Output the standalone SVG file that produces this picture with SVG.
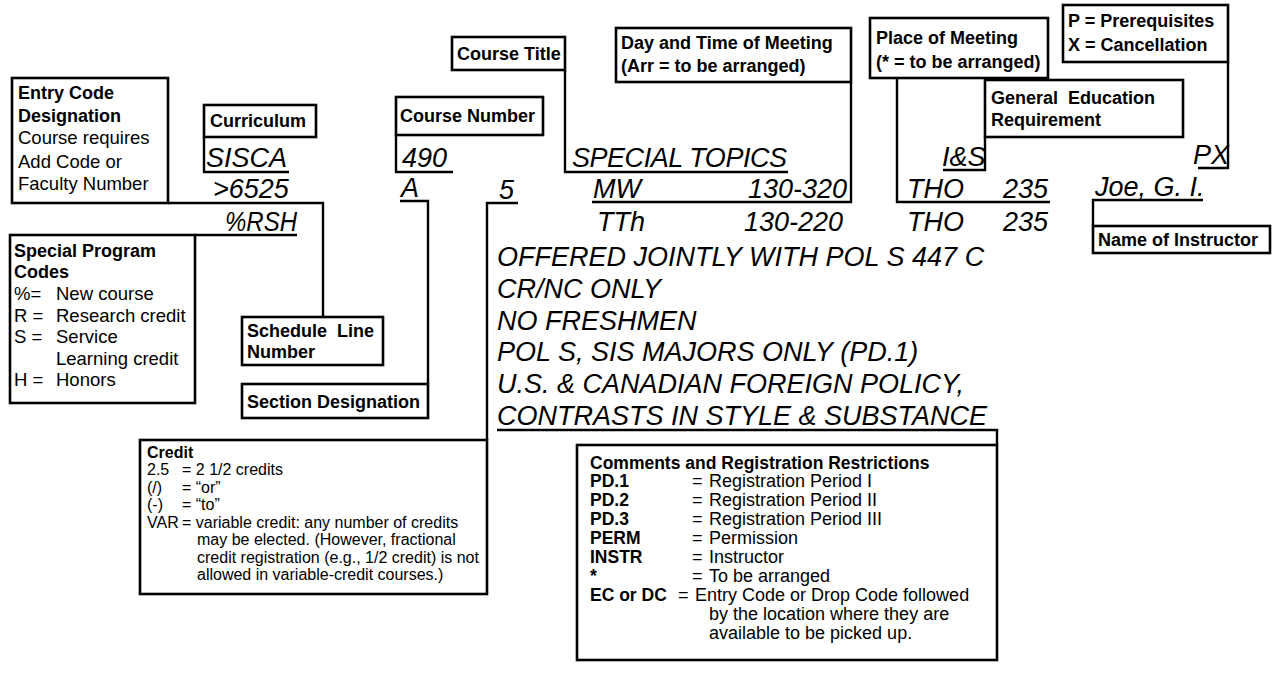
<svg xmlns="http://www.w3.org/2000/svg" width="1276" height="696" viewBox="0 0 1276 696">
<style>
.box{fill:#fff;stroke:#000;stroke-width:2.6}
.conn{fill:none;stroke:#000;stroke-width:2.4;stroke-linejoin:miter}
.h{font-family:"Liberation Sans",Arial,sans-serif;font-weight:bold;font-size:18px;fill:#000}
.b{font-family:"Liberation Sans",Arial,sans-serif;font-size:18.5px;fill:#000}
.cb{font-family:"Liberation Sans",Arial,sans-serif;font-size:16px;fill:#000}
.ch{font-family:"Liberation Sans",Arial,sans-serif;font-weight:bold;font-size:16px;fill:#000}
.mb{font-family:"Liberation Sans",Arial,sans-serif;font-size:18px;fill:#000}
.mh{font-family:"Liberation Sans",Arial,sans-serif;font-weight:bold;font-size:17.5px;fill:#000}
.rec{font-family:"Liberation Sans",Arial,sans-serif;font-style:italic;font-size:27px;fill:#000}
</style>
<rect width="1276" height="696" fill="#fff"/>

<g id="connectors">
<path class="conn" d="M204,137 V172 H289"/>
<path class="conn" d="M396,135 V172 H453"/>
<path class="conn" d="M565,70 V172 H788"/>
<path class="conn" d="M851,82 V202 H592"/>
<path class="conn" d="M897,78 V202 H1050"/>
<path class="conn" d="M985,137 V170 H943"/>
<path class="conn" d="M1228,62 V168 H1198"/>
<path class="conn" d="M1093,226 V200 H1203"/>
<path class="conn" d="M997,445 V430 H497"/>
<path class="conn" d="M487,440 V203 H518"/>
<path class="conn" d="M428,384 V201 H400"/>
<path class="conn" d="M323,317 V203 H168"/>
<path class="conn" d="M195,235 H297"/>
</g>

<g id="n-entry">
<rect class="box" x="12" y="78" width="156" height="125"/>
<text class="h" x="18" y="99">Entry Code</text>
<text class="h" x="18" y="122">Designation</text>
<text class="b" x="18" y="144">Course requires</text>
<text class="b" x="18" y="168">Add Code or</text>
<text class="b" x="18" y="190">Faculty Number</text>
</g>

<g id="n-curriculum">
<rect class="box" x="204" y="105" width="112" height="32"/>
<text class="h" x="210" y="127">Curriculum</text>
</g>

<g id="n-coursenumber">
<rect class="box" x="396" y="97" width="147" height="38"/>
<text class="h" x="400" y="122">Course Number</text>
</g>

<g id="n-coursetitle">
<rect class="box" x="452" y="37" width="113" height="33"/>
<text class="h" x="457" y="60">Course Title</text>
</g>

<g id="n-daytime">
<rect class="box" x="616" y="28" width="235" height="54"/>
<text class="h" x="621" y="49">Day and Time of Meeting</text>
<text class="h" x="621" y="72">(Arr = to be arranged)</text>
</g>

<g id="n-place">
<rect class="box" x="870" y="18" width="178" height="60"/>
<text class="h" x="876" y="44">Place of Meeting</text>
<text class="h" x="876" y="68">(* = to be arranged)</text>
</g>

<g id="n-gened">
<rect class="box" x="985" y="80" width="198" height="57"/>
<text class="h" x="991" y="104">General&#160; Education</text>
<text class="h" x="991" y="126">Requirement</text>
</g>

<g id="n-px">
<rect class="box" x="1063" y="5" width="165" height="57"/>
<text class="h" x="1068" y="27">P = Prerequisites</text>
<text class="h" x="1068" y="51">X = Cancellation</text>
</g>

<g id="n-instructor">
<rect class="box" x="1093" y="226" width="177" height="27"/>
<text class="h" x="1098" y="246">Name of Instructor</text>
</g>

<g id="n-special">
<rect class="box" x="10" y="235" width="185" height="168"/>
<text class="h" x="14" y="257">Special Program</text>
<text class="h" x="14" y="278">Codes</text>
<text class="b" x="14" y="300">%=</text><text class="b" x="56" y="300">New course</text>
<text class="b" x="14" y="322">R =</text><text class="b" x="56" y="322">Research credit</text>
<text class="b" x="14" y="343">S =</text><text class="b" x="56" y="343">Service</text>
<text class="b" x="56" y="365">Learning credit</text>
<text class="b" x="14" y="386">H =</text><text class="b" x="56" y="386">Honors</text>
</g>

<g id="n-schedule">
<rect class="box" x="242" y="317" width="141" height="48"/>
<text class="h" x="247" y="337">Schedule&#160; Line</text>
<text class="h" x="247" y="358">Number</text>
</g>

<g id="n-section">
<rect class="box" x="242" y="384" width="186" height="34"/>
<text class="h" x="247" y="408">Section Designation</text>
</g>

<g id="n-credit">
<rect class="box" x="140" y="440" width="347" height="154"/>
<text class="ch" x="147" y="458">Credit</text>
<text class="cb" x="147" y="475">2.5</text><text class="cb" x="182" y="475">= 2 1/2 credits</text>
<text class="cb" x="147" y="493">(/)</text><text class="cb" x="182" y="493">= “or”</text>
<text class="cb" x="147" y="510">(-)</text><text class="cb" x="182" y="510">= “to”</text>
<text class="cb" x="147" y="528">VAR</text><text class="cb" x="182" y="528">= variable credit: any number of credits</text>
<text class="cb" x="197" y="545">may be elected. (However, fractional</text>
<text class="cb" x="197" y="563">credit registration (e.g., 1/2 credit) is not</text>
<text class="cb" x="197" y="580">allowed in variable-credit courses.)</text>
</g>

<g id="n-comments">
<rect class="box" x="577" y="445" width="420" height="215"/>
<text class="mh" x="590" y="469">Comments and Registration Restrictions</text>
<text class="mh" x="590" y="487">PD.1</text><text class="mb" x="692" y="487">=</text><text class="mb" x="709" y="487">Registration Period I</text>
<text class="mh" x="590" y="506">PD.2</text><text class="mb" x="692" y="506">=</text><text class="mb" x="709" y="506">Registration Period II</text>
<text class="mh" x="590" y="525">PD.3</text><text class="mb" x="692" y="525">=</text><text class="mb" x="709" y="525">Registration Period III</text>
<text class="mh" x="590" y="544">PERM</text><text class="mb" x="692" y="544">=</text><text class="mb" x="709" y="544">Permission</text>
<text class="mh" x="590" y="563">INSTR</text><text class="mb" x="692" y="563">=</text><text class="mb" x="709" y="563">Instructor</text>
<text class="mh" x="590" y="582">*</text><text class="mb" x="692" y="582">=</text><text class="mb" x="709" y="582">To be arranged</text>
<text class="mh" x="590" y="601">EC or DC</text><text class="mb" x="678" y="601">=</text><text class="mb" x="695" y="601">Entry Code or Drop Code followed</text>
<text class="mb" x="709" y="620">by the location where they are</text>
<text class="mb" x="709" y="639">available to be picked up.</text>
</g>

<g id="record">
<text class="rec" x="206" y="167">SISCA</text>
<text class="rec" x="402" y="167">490</text>
<text class="rec" x="572" y="167" textLength="215" lengthAdjust="spacing">SPECIAL TOPICS</text>
<text class="rec" x="942" y="166">I&amp;S</text>
<text class="rec" x="1193" y="164">PX</text>
<text class="rec" x="213" y="198">&gt;6525</text>
<text class="rec" x="401" y="197">A</text>
<text class="rec" x="499" y="199">5</text>
<text class="rec" x="593" y="198">MW</text>
<text class="rec" x="847" y="198" text-anchor="end">130-320</text>
<text class="rec" x="907" y="198">THO</text>
<text class="rec" x="1048" y="198" text-anchor="end">235</text>
<text class="rec" x="1095" y="196">Joe, G. I.</text>
<text class="rec" x="225" y="231" textLength="72" lengthAdjust="spacingAndGlyphs">%RSH</text>
<text class="rec" x="597" y="231">TTh</text>
<text class="rec" x="843" y="231" text-anchor="end">130-220</text>
<text class="rec" x="907" y="231">THO</text>
<text class="rec" x="1048" y="231" text-anchor="end">235</text>
<text class="rec" x="497" y="266">OFFERED JOINTLY WITH POL S 447 C</text>
<text class="rec" x="497" y="298">CR/NC ONLY</text>
<text class="rec" x="497" y="330">NO FRESHMEN</text>
<text class="rec" x="497" y="361">POL S, SIS MAJORS ONLY (PD.1)</text>
<text class="rec" x="497" y="393">U.S. &amp; CANADIAN FOREIGN POLICY,</text>
<text class="rec" x="497" y="425">CONTRASTS IN STYLE &amp; SUBSTANCE</text>
</g>
</svg>
